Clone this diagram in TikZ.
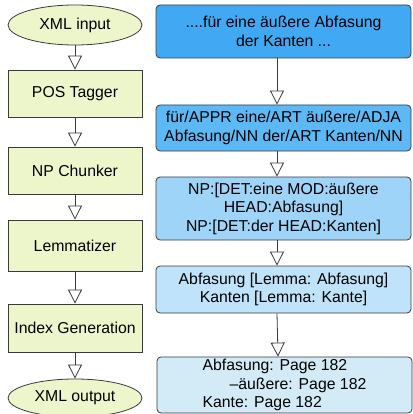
\documentclass[tikz,border=0pt]{standalone}
\usepackage{fontspec}
\setmainfont{Liberation Sans}
\usetikzlibrary{arrows.meta,shapes.geometric}

\definecolor{stagegreen}{HTML}{EDF6CB}
\definecolor{dataA}{HTML}{41A9F4}
\definecolor{dataB}{HTML}{5CB9F6}
\definecolor{dataC}{HTML}{9FD4F9}
\definecolor{dataD}{HTML}{BEE3FA}
\definecolor{dataE}{HTML}{D3EBF7}
\definecolor{edgegray}{HTML}{3A3A3A}

\begin{document}
\begin{tikzpicture}[x=1pt,y=-1pt,
  every node/.style={font=\fontsize{15.8}{18.5}\selectfont, inner sep=0pt, text=black},
  proc/.style={draw=edgegray, fill=stagegreen, line width=0.8pt, minimum width=134pt},
  io/.style={ellipse, draw=edgegray, fill=stagegreen, line width=0.8pt, minimum width=134pt},
  databox/.style={draw=edgegray, rounded corners=4pt, line width=0.8pt, minimum width=255pt, align=center},
  flow/.style={draw=edgegray, line width=0.8pt, -{Triangle[open, length=14pt, width=14pt]}}
]
\useasboundingbox (0,0) rectangle (412,414);

% processing pipeline
\node[io, minimum height=40pt]   (xin)  at (75,25)    {XML input};
\node[proc, minimum height=47pt] (pos)  at (75,93.5)  {POS Tagger};
\node[proc, minimum height=47pt] (npc)  at (75,170.5) {NP Chunker};
\node[proc, minimum height=51pt] (lem)  at (75,245.5) {Lemmatizer};
\node[proc, minimum height=48pt] (idx)  at (75,328)   {Index Generation};
\node[io, minimum height=38pt]   (xout) at (75,398)   {XML output};

\draw[flow] (xin)  -- (pos);
\draw[flow] (pos)  -- (npc);
\draw[flow] (npc)  -- (lem);
\draw[flow] (lem)  -- (idx);
\draw[flow] (idx)  -- (xout);

% intermediate data at each stage
\node[databox, fill=dataA, minimum height=53pt] (d1) at (283.5,31.5)
  {....für eine äußere Abfasung\\der Kanten ...};
\node[databox, fill=dataB, minimum height=46pt] (d2) at (283.5,128)
  {für/APPR eine/ART äußere/ADJA\\Abfasung/NN der/ART Kanten/NN};
\node[databox, fill=dataC, minimum height=63pt] (d3) at (283.5,208.5)
  {NP:[DET:eine MOD:äußere\\HEAD:Abfasung]\\NP:[DET:der HEAD:Kanten]};
\node[databox, fill=dataD, minimum height=47pt] (d4) at (283.5,289.5)
  {Abfasung [Lemma: Abfasung]\\Kanten [Lemma: Kante]};
\node[databox, fill=dataE, minimum height=56pt, align=left] (d5) at (284.5,385)
  {Abfasung: Page 182\\\hspace*{27pt}–äußere: Page 182\hspace*{-8pt}\\Kante: Page 182};

\draw[flow] ([xshift=-6.5pt]d1.south) -- ([xshift=-6.5pt]d2.north);
\draw[flow] ([xshift=-6.5pt]d2.south) -- ([xshift=-6.5pt]d3.north);
\draw[flow] ([xshift=-6.5pt]d3.south) -- ([xshift=-6.5pt]d4.north);
\draw[flow] ([xshift=-6.5pt]d4.south) -- ([xshift=-6.5pt]d5.north);
\end{tikzpicture}
\end{document}
